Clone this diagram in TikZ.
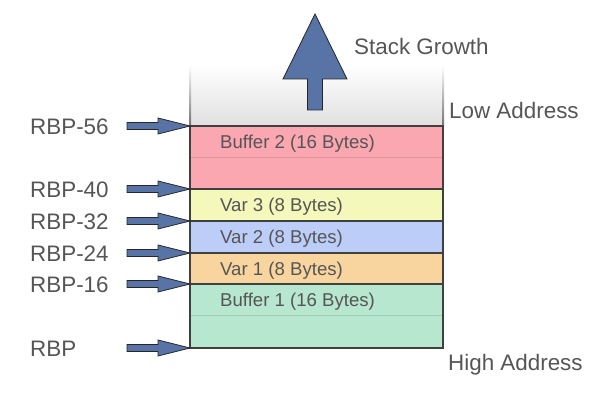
\documentclass[tikz,border=0pt]{standalone}
\usepackage{fontspec}
\setmainfont{Liberation Sans}
\usetikzlibrary{positioning}

\definecolor{txtgray}{RGB}{85,85,85}
\definecolor{boxline}{RGB}{64,64,64}
\definecolor{arrowblue}{RGB}{88,116,166}
\definecolor{pinkbuf}{RGB}{250,167,178}
\definecolor{yellowvar}{RGB}{245,248,187}
\definecolor{bluevar}{RGB}{188,206,247}
\definecolor{orangevar}{RGB}{248,213,159}
\definecolor{greenbuf}{RGB}{184,231,207}

\begin{document}
\begin{tikzpicture}[x=1pt,y=-1pt,
  lbl/.style={text=txtgray,font=\fontsize{22.4}{24}\selectfont,anchor=base west,inner sep=0pt},
  celltxt/.style={text=txtgray,font=\fontsize{18.6}{20}\selectfont,anchor=base west,inner sep=0pt},
  cell/.style={draw=boxline,line width=2pt,minimum width=253pt,inner sep=0pt,outer sep=0pt},
  fatarrow/.style={fill=arrowblue,draw=black!85,line width=0.8pt,line join=miter}]
\useasboundingbox (0,0) rectangle (600,411);
% free space above the frame
\shade[top color=white,bottom color=black!12] (190,65) rectangle (443,126);
\shade[top color=white,bottom color=black!55] (189,65) rectangle (191,126);
\shade[top color=white,bottom color=black!55] (442,65) rectangle (444,126);
% the frame, top to bottom
\node[cell,fill=pinkbuf,minimum height=63pt,anchor=north west] (buf2) at (190,126) {};
\node[cell,fill=yellowvar,minimum height=32pt,below=0pt of buf2] (var3) {};
\node[cell,fill=bluevar,minimum height=32pt,below=0pt of var3] (var2) {};
\node[cell,fill=orangevar,minimum height=31pt,below=0pt of var2] (var1) {};
\node[cell,fill=greenbuf,minimum height=64pt,below=0pt of var1] (buf1) {};
\draw[pinkbuf!88!black,line width=1pt] ([xshift=1pt]buf2.west) -- ([xshift=-1pt]buf2.east);
\draw[greenbuf!88!black,line width=1pt] ([xshift=1pt]buf1.west) -- ([xshift=-1pt]buf1.east);
\foreach \c/\t in {buf2/Buffer 2 (16 Bytes),var3/Var 3 (8 Bytes),var2/Var 2 (8 Bytes),var1/Var 1 (8 Bytes),buf1/Buffer 1 (16 Bytes)} % cell texts
\node[celltxt] (\c txt) at ([shift={(30,22.5)}]\c.north west) {\t};
% offsets from rbp
\foreach \tip/\txt [count=\i] in {buf2.north west/RBP-56,var3.north west/RBP-40,var2.north west/RBP-32,var1.north west/RBP-24,buf1.north west/RBP-16,buf1.south west/RBP}
{
\node[lbl] (rbp\i) at ([yshift=-8.7pt]30,0 |- \tip) {\txt};
\filldraw[fatarrow] ([shift={(-63,-3.5)}]\tip) -- ([shift={(-32,-3.5)}]\tip) -- ([shift={(-32,-8)}]\tip) -- (\tip)
  -- ([shift={(-32,8)}]\tip) -- ([shift={(-32,3.5)}]\tip) -- ([shift={(-63,3.5)}]\tip) -- cycle;
}
% growth arrow
\coordinate (growbase) at (315,110);
\filldraw[fatarrow] ([shift={(-7.5,0)}]growbase) -- ([shift={(-7.5,-31)}]growbase) -- ([shift={(-32,-31)}]growbase)
  -- ([shift={(0,-96)}]growbase) -- ([shift={(32,-31)}]growbase) -- ([shift={(7.5,-31)}]growbase) -- ([shift={(7.5,0)}]growbase) -- cycle;
\node[lbl] (growth) at (354,55) {Stack Growth};
\node[lbl] (low) at (449,119) {Low Address};
\node[lbl] (high) at (448,371) {High Address};
\end{tikzpicture}
\end{document}
